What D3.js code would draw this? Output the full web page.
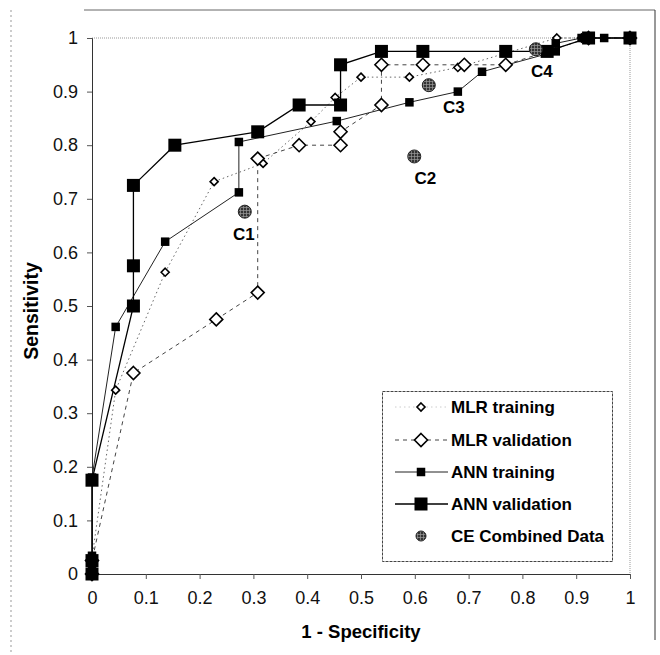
<!DOCTYPE html>
<html>
<head>
<meta charset="utf-8">
<script src="https://cdn.jsdelivr.net/npm/d3@7"></script>
<style>
    body { margin: 0; background: #fff; }
    text { font-family: Arial, "Liberation Sans", sans-serif; }
</style>
</head>
<body>
<svg id="chart" width="660" height="655"></svg>
<script>
// ROC points, [1 - specificity, sensitivity]
var mlrTraining = [[0, 0.03], [0.044, 0.343], [0.136, 0.563], [0.227, 0.732], [0.318, 0.766], [0.407, 0.844],
    [0.452, 0.889], [0.5, 0.927], [0.59, 0.927], [0.68, 0.945], [0.864, 1.0], [0.91, 1], [1, 1]];
var mlrValidation = [[0, 0], [0, 0.025], [0.077, 0.375], [0.231, 0.475], [0.308, 0.525], [0.308, 0.775],
    [0.385, 0.8], [0.462, 0.8], [0.462, 0.825], [0.538, 0.875], [0.538, 0.95], [0.615, 0.95],
    [0.692, 0.95], [0.769, 0.95], [0.923, 1], [1, 1]];
var annTraining = [[0, 0], [0, 0.015], [0, 0.034], [0, 0.18], [0.044, 0.461], [0.136, 0.62], [0.273, 0.712],
    [0.273, 0.806], [0.455, 0.845], [0.59, 0.88], [0.68, 0.9], [0.725, 0.937], [0.862, 0.975],
    [0.862, 0.99], [0.91, 1], [0.952, 1], [1, 1]];
var annValidation = [[0, 0], [0, 0.025], [0, 0.175], [0.077, 0.5], [0.077, 0.575], [0.077, 0.725],
    [0.154, 0.8], [0.308, 0.825], [0.385, 0.875], [0.462, 0.875], [0.462, 0.95], [0.538, 0.975],
    [0.615, 0.975], [0.769, 0.975], [0.846, 0.975], [0.923, 1], [1, 1]];
var ceNames = ['C1', 'C2', 'C3', 'C4'];
var ceX = [0.284, 0.599, 0.626, 0.825];
var ceY = [0.676, 0.779, 0.912, 0.979];
var tickValues = [0, 0.1, 0.2, 0.3, 0.4, 0.5, 0.6, 0.7, 0.8, 0.9, 1];
var legendNames = ['MLR training', 'MLR validation', 'ANN training', 'ANN validation', 'CE Combined Data'];

var svg = d3.select('#chart');

var x = d3.scaleLinear().domain([0, 1]).range([92, 630]);
var y = d3.scaleLinear().domain([0, 1]).range([574, 38]);

// grid pattern for the CE dots
var defs = svg.append('defs');
var pat = defs.append('pattern')
    .attr('id', 'grid')
    .attr('width', 3)
    .attr('height', 3)
    .attr('patternUnits', 'userSpaceOnUse');
pat.append('rect').attr('width', 3).attr('height', 3).attr('fill', '#333');
pat.append('path').attr('d', 'M0,0.5H3M0.5,0V3').attr('stroke', '#999').attr('stroke-width', 0.7);

// outer frame
svg.append('line').attr('x1', 11).attr('y1', 10).attr('x2', 11).attr('y2', 652)
    .attr('stroke', '#999').attr('stroke-dasharray', '2,3');
svg.append('line').attr('x1', 84).attr('y1', 10).attr('x2', 655).attr('y2', 10)
    .attr('stroke', '#666');
svg.append('line').attr('x1', 655).attr('y1', 10).attr('x2', 655).attr('y2', 640)
    .attr('stroke', '#333');

// plot area border (top and right)
svg.append('path')
    .attr('d', 'M' + x(0) + ',' + y(1) + 'H' + x(1) + 'V' + y(0))
    .attr('fill', 'none')
    .attr('stroke', '#999')
    .attr('stroke-dasharray', '1,1');

// axes
var yAxis = d3.axisLeft(y).tickValues(tickValues).tickSize(5).tickPadding(9)
    .tickFormat(d3.format('~g'));
var gy = svg.append('g').attr('transform', 'translate(' + x(0) + ',0)').call(yAxis);
var xAxis = d3.axisBottom(x).tickValues(tickValues).tickSize(5).tickPadding(12)
    .tickFormat(d3.format('~g'));
var gx = svg.append('g').attr('transform', 'translate(0,' + y(0) + ')').call(xAxis);
[gx, gy].forEach(function(g) {
    g.select('.domain').attr('stroke', '#333');
    g.selectAll('.tick line').attr('stroke', '#555');
    g.selectAll('.tick text').style('font-size', '18px').attr('fill', '#111');
});

svg.append('text')
    .attr('x', 361)
    .attr('y', 638)
    .attr('text-anchor', 'middle')
    .style('font-size', '18.5px')
    .style('font-weight', 'bold')
    .text('1 - Specificity');

svg.append('text')
    .attr('transform', 'translate(38,311) rotate(-90)')
    .attr('text-anchor', 'middle')
    .style('font-size', '19.5px')
    .style('font-weight', 'bold')
    .text('Sensitivity');

var line = d3.line()
    .x(function(d) { return x(d[0]); })
    .y(function(d) { return y(d[1]); });

var series = [
    { data: mlrTraining, stroke: '#666', width: 1, dash: '1.5,3', marker: 'diamond', size: 8 },
    { data: mlrValidation, stroke: '#444', width: 1, dash: '4,4', marker: 'diamond', size: 13 },
    { data: annTraining, stroke: '#222', width: 1, dash: null, marker: 'square', size: 8.5 },
    { data: annValidation, stroke: '#000', width: 1.3, dash: null, marker: 'square', size: 13 }
];

function drawMarker(g, type, size, cx, cy) {
    if (type === 'square') {
        g.append('rect')
            .attr('x', cx - size / 2)
            .attr('y', cy - size / 2)
            .attr('width', size)
            .attr('height', size)
            .attr('fill', '#000');
    } else {
        var h = size / 2;
        g.append('path')
            .attr('d', 'M' + cx + ',' + (cy - h) + 'L' + (cx + h) + ',' + cy + 'L' + cx + ',' + (cy + h) + 'L' + (cx - h) + ',' + cy + 'Z')
            .attr('fill', '#fff')
            .attr('stroke', '#000')
            .attr('stroke-width', 1.6);
    }
}

series.forEach(function(s) {
    svg.append('path')
        .attr('d', line(s.data))
        .attr('fill', 'none')
        .attr('stroke', s.stroke)
        .attr('stroke-width', s.width)
        .attr('stroke-dasharray', s.dash);
});

series.forEach(function(s) {
    var g = svg.append('g');
    s.data.forEach(function(d) {
        drawMarker(g, s.marker, s.size, x(d[0]), y(d[1]));
    });
});

// CE combined data
ceNames.forEach(function(name, i) {
    svg.append('circle')
        .attr('cx', x(ceX[i]))
        .attr('cy', y(ceY[i]))
        .attr('r', 6.5)
        .attr('fill', 'url(#grid)')
        .attr('stroke', '#222')
        .attr('stroke-width', 1);
    svg.append('text')
        .attr('x', x(ceX[i]) + [-1, 11, 25, 6][i])
        .attr('y', y(ceY[i]) + 28)
        .attr('text-anchor', 'middle')
        .style('font-size', '17px')
        .style('font-weight', 'bold')
        .text(name);
});

// legend
var legend = svg.append('g');
legend.append('rect')
    .attr('x', 382.5)
    .attr('y', 391.5)
    .attr('width', 230)
    .attr('height', 170)
    .attr('fill', '#fff')
    .attr('stroke', '#444')
    .attr('stroke-dasharray', '3,1');

var rowY = [407, 440, 472, 504, 536];
legendNames.forEach(function(name, i) {
    var cy = rowY[i];
    if (i < 4) {
        var s = series[i];
        legend.append('line')
            .attr('x1', 395).attr('x2', 448)
            .attr('y1', cy).attr('y2', cy)
            .attr('stroke', i === 0 ? '#ccc' : s.stroke)
            .attr('stroke-width', s.width)
            .attr('stroke-dasharray', s.dash);
        drawMarker(legend, s.marker, s.size, 421, cy);
    } else {
        legend.append('circle')
            .attr('cx', 421)
            .attr('cy', cy)
            .attr('r', 5)
            .attr('fill', 'url(#grid)')
            .attr('stroke', '#222');
    }
    legend.append('text')
        .attr('x', 451)
        .attr('y', cy + 6)
        .style('font-size', '17px')
        .style('font-weight', 'bold')
        .text(name);
});
</script>
</body>
</html>
